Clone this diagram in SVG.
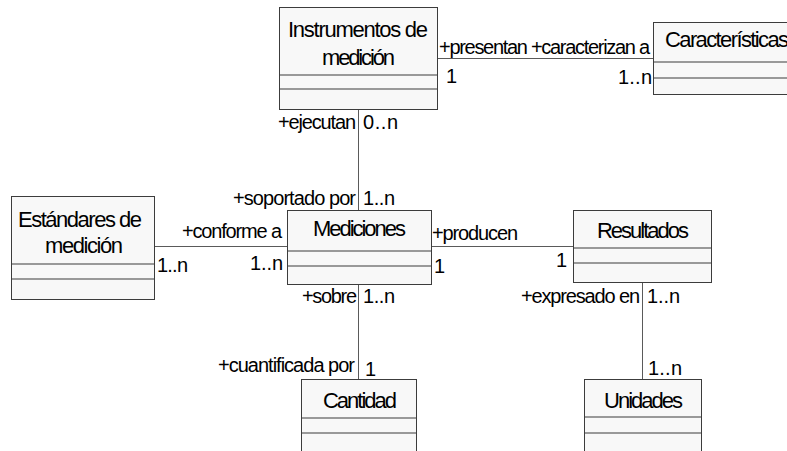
<svg xmlns="http://www.w3.org/2000/svg" width="787" height="451" viewBox="0 0 787 451">
<style>
.box{fill:#f8f8f8;stroke:#3c3c3c;stroke-width:1}
.div{stroke:#7a7a7a;stroke-width:1.5;fill:none}
.conn{stroke:#5a5a5a;stroke-width:1;fill:none}
.name{font-family:"Liberation Sans",Arial,sans-serif;font-size:22px;fill:#000}
.lbl{font-family:"Liberation Sans",Arial,sans-serif;font-size:20px;fill:#000}
</style>
<rect width="787" height="451" fill="#ffffff"/>
<g id="connectors">
<line class="conn" x1="358.5" y1="109" x2="358.5" y2="210"/>
<line class="conn" x1="437" y1="58.5" x2="653" y2="58.5"/>
<line class="conn" x1="154" y1="246.5" x2="287" y2="246.5"/>
<line class="conn" x1="431" y1="246.5" x2="573" y2="246.5"/>
<line class="conn" x1="358.5" y1="284" x2="358.5" y2="379"/>
<line class="conn" x1="642.5" y1="282" x2="642.5" y2="379"/>
<text class="lbl" x="439" y="54" textLength="211" lengthAdjust="spacing">+presentan +caracterizan a</text>
<text class="lbl" x="446" y="83" textLength="11" lengthAdjust="spacing">1</text>
<text class="lbl" x="618" y="84" textLength="34" lengthAdjust="spacing">1..n</text>
<text class="lbl" x="278" y="129" textLength="78" lengthAdjust="spacing">+ejecutan</text>
<text class="lbl" x="363" y="129" textLength="35" lengthAdjust="spacing">0..n</text>
<text class="lbl" x="233" y="205" textLength="123" lengthAdjust="spacing">+soportado por</text>
<text class="lbl" x="363" y="205" textLength="32" lengthAdjust="spacing">1..n</text>
<text class="lbl" x="182" y="238" textLength="100" lengthAdjust="spacing">+conforme a</text>
<text class="lbl" x="157" y="272" textLength="31" lengthAdjust="spacing">1..n</text>
<text class="lbl" x="250" y="270" textLength="33" lengthAdjust="spacing">1..n</text>
<text class="lbl" x="432" y="240" textLength="86" lengthAdjust="spacing">+producen</text>
<text class="lbl" x="434" y="273" textLength="11" lengthAdjust="spacing">1</text>
<text class="lbl" x="556" y="267" textLength="11" lengthAdjust="spacing">1</text>
<text class="lbl" x="302" y="303" textLength="55" lengthAdjust="spacing">+sobre</text>
<text class="lbl" x="363" y="303" textLength="32" lengthAdjust="spacing">1..n</text>
<text class="lbl" x="521" y="303" textLength="119" lengthAdjust="spacing">+expresado en</text>
<text class="lbl" x="647" y="303" textLength="33" lengthAdjust="spacing">1..n</text>
<text class="lbl" x="218" y="372" textLength="137" lengthAdjust="spacing">+cuantificada por</text>
<text class="lbl" x="365" y="376" textLength="11" lengthAdjust="spacing">1</text>
<text class="lbl" x="648" y="375" textLength="34" lengthAdjust="spacing">1..n</text>
</g>
<g id="instrumentos">
<rect class="box" x="279.5" y="7.5" width="158" height="102"/>
<line class="div" x1="280" y1="75" x2="437" y2="75"/>
<line class="div" x1="280" y1="89" x2="437" y2="89"/>
<text class="name" x="288" y="37" textLength="140" lengthAdjust="spacing">Instrumentos de</text>
<text class="name" x="322" y="65" textLength="73" lengthAdjust="spacing">medición</text>
</g>
<g id="caracteristicas">
<rect class="box" x="653.5" y="22.5" width="160" height="72"/>
<line class="div" x1="654" y1="62" x2="787" y2="62"/>
<line class="div" x1="654" y1="78" x2="787" y2="78"/>
<text class="name" x="665" y="47" textLength="124" lengthAdjust="spacing">Características</text>
</g>
<g id="estandares">
<rect class="box" x="11.5" y="196.5" width="143" height="103"/>
<line class="div" x1="12" y1="264" x2="154" y2="264"/>
<line class="div" x1="12" y1="279" x2="154" y2="279"/>
<text class="name" x="18" y="227" textLength="124" lengthAdjust="spacing">Estándares de</text>
<text class="name" x="45" y="253" textLength="78" lengthAdjust="spacing">medición</text>
</g>
<g id="mediciones">
<rect class="box" x="287.5" y="210.5" width="144" height="74"/>
<line class="div" x1="288" y1="251" x2="431" y2="251"/>
<line class="div" x1="288" y1="266" x2="431" y2="266"/>
<text class="name" x="313" y="236" textLength="93" lengthAdjust="spacing">Mediciones</text>
</g>
<g id="resultados">
<rect class="box" x="573.5" y="210.5" width="138" height="72"/>
<line class="div" x1="574" y1="248" x2="711" y2="248"/>
<line class="div" x1="574" y1="263" x2="711" y2="263"/>
<text class="name" x="597" y="238" textLength="92" lengthAdjust="spacing">Resultados</text>
</g>
<g id="cantidad">
<rect class="box" x="301.5" y="379.5" width="115" height="80"/>
<line class="div" x1="302" y1="418" x2="416" y2="418"/>
<line class="div" x1="302" y1="433" x2="416" y2="433"/>
<text class="name" x="323" y="408" textLength="74" lengthAdjust="spacing">Cantidad</text>
</g>
<g id="unidades">
<rect class="box" x="584.5" y="379.5" width="117" height="80"/>
<line class="div" x1="585" y1="417" x2="701" y2="417"/>
<line class="div" x1="585" y1="433" x2="701" y2="433"/>
<text class="name" x="604" y="408" textLength="79" lengthAdjust="spacing">Unidades</text>
</g>
</svg>
